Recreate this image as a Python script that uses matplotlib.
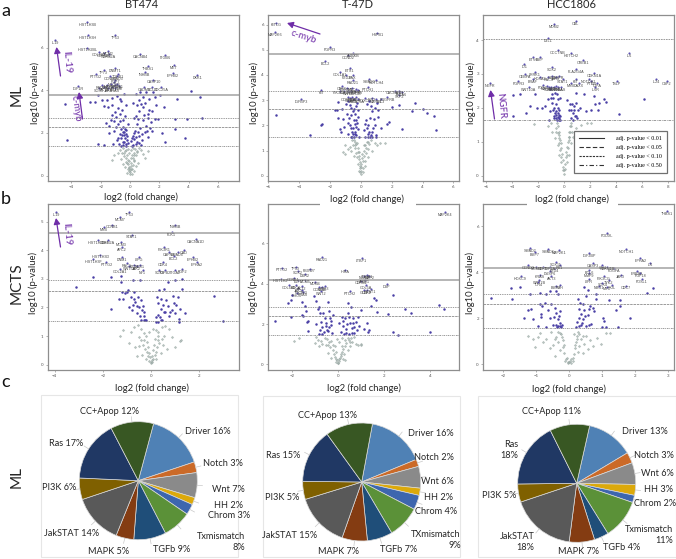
import numpy as np
import matplotlib as mpl
mpl.use('Agg')
import matplotlib.pyplot as plt
from matplotlib.lines import Line2D
from matplotlib.patches import Rectangle

W, H = 676, 559

# gene labels: name, log2 fc, -log10 p
a1_genes = [('HIST1H3B',-2.9,7.2),('HIST1H3H',-2.85,6.6),('TP53',-1.0,6.6),('IL19',-5.1,6.35),('HIST1H2BL',-2.9,6.0),
 ('COL4A2',-2.1,5.8),('COL4A1',-1.8,5.75),('MCM2',-1.5,5.85),('CDKN2A',-1.45,5.7),('CACNB4',0.7,5.7),('ITGB6',2.4,5.65),('MET',3.0,5.2),
 ('THBS1',1.25,5.15),('DKK1',4.6,4.7),('EPHB2',2.95,4.8),('INHBB',1.0,4.85),('CASP10',1.6,4.5),('CADM1',0.95,4.15),('BCL2',1.5,4.15),('CDC25A',2.1,4.15),
 ('PTTG2',-2.3,4.75),('TP73',-1.8,4.95),('DNMT1',-1.0,5.05),('IGF1R',-3.55,4.2),('CCND3',-1.35,4.65),('SMAD3',-0.9,4.65),('TGFB1',-0.8,4.75),
 ('FGF7',-1.0,4.5),('NCOR1',-1.1,4.4),('PIK3R1',-0.9,4.3),('RAD21',-1.9,4.25),('FZD7',-1.6,4.25),('MAP2K2',-1.3,4.3),('WNT5A',-1.0,4.25),('GLI2',-0.75,4.2),
 ('SOS1',-2.1,4.1),('AKT1',-1.75,4.15),('JAK1',-1.5,4.1),('STAT3',-1.25,4.15),('KRAS',-1.05,4.1)]
a1_sig = [(4.15,3.95),(4.8,3.7),(3.2,3.6),(-4.45,3.35),(-4.3,1.67),(-2.7,3.45),(-2.4,3.45),(4.9,2.7),(3.9,2.65),(3.1,2.65),(3.05,2.2),(3.75,1.78),
 (-2.15,1.48),(-1.8,1.43),(-2.2,3.8),(-1.9,3.55),(-1.75,3.25),(-1.5,3.2),(-1.2,3.3),(-0.9,3.75),(-0.6,3.5),(-0.4,3.85),(0.4,3.85),(0.6,3.55),(0.7,3.9),
 (0.9,3.7),(1.1,3.9),(1.3,3.6),(1.55,3.9),(2.05,3.8),(2.3,3.2),(1.8,3.3),(1.5,3.05),(1.2,2.9),(0.9,3.2),(0.6,3.05),(0.4,2.8),(0.2,3.4),
 (-1.2,2.85),(-1.1,2.55),(-0.95,2.75),(-0.8,2.4),(-0.7,2.9),(-0.5,2.6),(-0.35,2.8),(-1.4,2.0),(-1.1,2.1),(-0.9,1.65),(-0.75,1.5),(-0.6,2.2),(-0.55,1.9),
 (-0.5,1.6),(-0.45,2.3),(-0.4,2.05),(-0.35,1.75),(-0.3,1.5),(-0.25,2.15),(-0.2,1.85),(-0.6,1.4),(-0.3,1.38),(0.2,1.45),(0.3,1.7),(0.35,2.1),(0.45,1.6),
 (0.5,2.4),(0.6,1.85),(0.7,2.25),(0.8,1.65),(0.9,2.6),(1.0,2.05),(1.1,2.35),(1.25,1.8),(1.4,2.5),(1.5,2.1),(1.7,2.65),(1.9,2.65),(2.2,2.0),(2.4,1.6),
 (0.15,1.4),(0.25,2.7),(0.55,2.65),(1.25,2.7),(-1.65,2.45),(-1.15,1.5),(-0.85,3.15)]
a1_more = [(-1.05,3.0),(-0.55,3.1),(-0.25,3.3),(-1.3,2.6),(-0.65,2.55),(-0.15,2.4),(-0.5,2.05),(-0.42,1.92),(-0.32,2.2),(-0.28,1.95),(-0.22,1.65),(-0.62,1.75),(-0.7,1.95),(-0.82,1.78),
 (-0.98,2.3),(-0.45,1.45),(-0.38,1.6),(-0.12,1.55),(0.1,1.62),(0.22,1.85),(0.28,1.98),(0.38,1.48),(0.42,1.8),(0.55,2.05),(0.62,1.55),(0.75,1.45),(0.85,1.95),(1.15,2.1),(1.3,3.1),(1.05,3.4),
 (0.75,3.35),(0.5,3.3),(-1.45,2.35),(-1.55,3.55),(-1.25,3.65),(-0.7,3.6),(1.7,3.7),(0.95,2.85),(1.35,2.25),(0.15,1.75)]
a1_ns = [(0,0.1),(0.03,0.25),(-0.04,0.35),(0.06,0.45),(-0.08,0.2),(0.1,0.6),(-0.12,0.55),(0.14,0.3),(-0.16,0.75),(0.2,0.85),(-0.2,0.95),(0.25,1.05),(-0.27,0.65),
 (0.3,0.7),(-0.32,1.15),(0.35,1.25),(-0.38,0.9),(0.42,0.95),(-0.45,1.3),(0.5,1.1),(-0.55,1.05),(0.6,1.3),(-0.7,1.2),(0.75,1.2),(-0.85,1.05),(0.9,1.0),(-1.1,0.95),
 (1.05,0.85),(-0.6,0.8),(0.55,0.6),(-0.35,0.4),(0.3,0.2),(-0.2,0.12),(0.12,0.1),(-1.25,0.75),(1.25,1.15),(-0.05,0.7),(0.04,0.85),(-0.1,1.05),(0.08,1.2),(0.15,0.95),(-0.15,1.25),(-0.5,0.55),(0.4,0.45),
 (-0.02,0.18),(0.07,0.32),(-0.1,0.42),(-0.15,0.3),(0.18,0.5),(-0.22,0.6),(0.24,0.75),(-0.28,0.85),(0.3,0.95),(-0.4,1.05),(0.45,1.15),(-0.25,1.2),(0.2,1.3)]

a2_genes = [('KITLG',-5.45,6.08),('MAP2K6',-5.55,5.7),('HSPB1',1.08,5.68),('FGFR3',-2.0,5.09),('CCND2',-0.82,4.8),('AURKB',-0.5,4.88),('BCL2',-2.3,4.55),
 ('ETS1',-0.7,4.27),('COL1A1',-1.35,4.13),('FZD2',-0.93,4.0),('BAX',-0.5,4.0),('RAD21',-0.5,3.8),('SMAD3',0.52,3.83),('NOTCH4',1.0,3.8),('PTCH1',0.47,3.53),
 ('KIT',-2.55,3.4),('IGFBP3',-3.85,3.03),('CDK6',-1.2,3.55),('TGFBR1',-0.9,3.5),('MYC',-0.55,3.5),('RHOA',-0.3,3.45),('PIK3CA',-1.35,3.38),('E2F1',-1.05,3.38),
 ('WNT3',-0.8,3.35),('NRAS',-0.6,3.38),('GSK3B',-0.35,3.35),('TP63',-0.15,3.4),('CCNE1',-0.85,3.12),('SOS2',-0.7,3.08),('RAF1',-0.55,3.12),('AKT2',-0.45,3.05),
 ('JAK2',-0.3,3.12),('STAT5A',-0.2,3.05),('FOXO3',0.3,3.08),('IRS2',0.7,3.1),('MAPK1',1.0,3.05),('DVL3',1.3,3.05),('PDGFRB',1.7,3.12),('CACNA1D',2.2,3.38),
 ('TCF7',2.5,3.35),('ITGA6',2.65,3.32),('SKP2',2.5,3.22)]
a2_sig = [(-5.45,2.42),(-2.5,2.05),(-2.55,2.0),(-3.3,1.62),(-1.65,2.62),(-1.5,2.92),(-1.55,2.6),(-1.45,2.3),(-1.35,1.85),(-1.2,2.65),(-1.15,2.25),(-1.1,1.95),
 (-0.95,2.85),(-0.9,2.45),(-0.85,2.1),(-0.8,1.65),(-0.7,2.8),(-0.65,2.4),(-0.6,1.9),(-0.55,1.55),(-0.5,2.55),(-0.45,2.2),(-0.4,1.75),(-0.35,2.45),(-0.3,1.95),
 (-0.28,1.6),(-0.25,2.9),(-0.2,2.35),(-0.15,1.85),(-0.12,1.55),(-0.65,1.55),(-0.55,1.75),(0.2,1.8),(0.28,1.55),(0.35,2.2),(0.4,2.85),(0.45,1.65),(0.5,2.0),(0.55,2.95),
 (0.6,1.55),(0.7,1.75),(0.75,2.55),(0.85,2.25),(0.9,2.0),(1.0,1.6),(1.05,2.9),(1.1,2.35),(1.15,2.6),(1.3,1.9),(1.0,1.52),(1.7,2.05),(1.85,2.15),(2.05,2.72),
 (2.5,2.8),(2.7,1.85),(3.3,2.58),(3.5,2.9),(4.0,2.65),(4.3,2.47),(4.75,2.38),(4.85,1.8),(-1.25,1.72),(-0.8,2.95),(0.65,1.6),(0.5,1.55)]
a2_more = [(-0.6,2.7),(-0.42,2.65),(-0.32,2.2),(-0.38,2.05),(-0.48,1.9),(-0.22,2.1),(-0.35,1.65),(-0.42,1.55),(-0.5,1.65),(-0.18,2.6),(-0.3,2.75),(-0.75,2.3),(-0.7,2.0),(0.3,2.05),(0.42,1.9),
 (0.55,1.75),(0.6,2.3),(0.72,1.55),(0.78,1.9),(0.95,2.7),(0.65,2.75)]
a2_ns = [(0,0.08),(0.02,0.2),(-0.03,0.3),(0.05,0.45),(-0.05,0.55),(0.08,0.7),(-0.08,0.65),(0.1,0.85),(-0.12,0.95),(0.15,0.3),(-0.15,0.45),(0.2,1.0),(-0.2,1.1),
 (0.25,0.6),(-0.25,0.75),(0.28,1.2),(-0.28,1.25),(0.3,0.4),(-0.3,0.9),(0.33,0.9),(-0.35,1.35),(0.35,1.1),(-0.4,1.1),(0.4,1.35),(-0.45,0.8),(0.45,1.05),(-0.5,1.2),
 (0.5,0.75),(-0.55,1.4),(0.55,1.25),(-0.6,1.0),(0.65,1.4),(-0.7,1.15),(0.75,1.0),(-0.85,1.05),(0.9,1.3),(-1.0,1.2),(1.05,1.2),(-1.15,0.95),(1.25,1.3),(1.6,1.3),(-1.0,0.85),(0.15,0.15),(-0.1,0.2),
 (-0.02,0.15),(0.04,0.35),(-0.06,0.4),(0.12,0.6),(-0.1,0.8),(-0.18,0.95),(0.18,0.8),(-0.22,1.3),(0.22,1.2),(-0.35,1.2),(-0.42,1.4),(0.5,1.35)]

a3_genes = [('MDM2',-0.75,4.48),('CBL',0.9,4.55),('DLL1',-1.2,4.05),('CCCTNB',-0.5,3.7),('HDTCH2',0.55,3.62),('IL6',5.0,3.62),('ETV6',-2.35,3.5),('BMP',-1.85,3.5),
 ('CREB1',1.45,3.4),('ID1',-3.05,3.3),('SOX2',-0.95,3.2),('PLA2G4A',0.95,3.15),('CEBPA',-3.0,3.0),('LRRK1',-2.25,3.05),('HOXA9',-1.85,2.92),('CDKN1A',2.3,3.02),
 ('FGFR3',-3.5,2.78),('BRAF',-2.4,2.85),('RAC1',-1.2,2.9),('SMO',-0.9,2.95),('JAK3',-0.65,2.92),('EGFR',-0.4,2.95),('STAT1',-0.1,2.85),('KIT',0.9,2.85),('MYB',0.55,2.72),
 ('DAXX',1.15,2.72),('NGFR',-5.7,2.72),('WNT10A',-2.7,2.6),('NOTCH1',1.9,2.85),('PTEN',2.1,2.8),('TGFA',2.55,2.72),('IL6R',2.4,2.6),('TSLP',4.05,2.8),
 ('IL24',7.1,2.85),('CSF2',7.9,2.78),('FGF2',-1.65,2.68),('MAP3K',-1.3,2.65),('SOS1',-1.15,2.6),('PTK2',-1.0,2.62),('CCND1',-0.75,2.6),('CDK4',-0.6,2.65),('RELA',-0.45,2.6),('HRAS',-0.25,2.62)]
a3_sig = [(-3.95,2.38),(-3.4,2.4),(-2.95,1.85),(-3.9,1.75),(-2.2,2.4),(-2.1,2.0),(-2.6,2.05),(-1.7,2.0),(-1.45,2.05),(-1.2,2.25),(-1.1,1.9),(-1.15,1.65),(-1.0,2.3),
 (-0.9,2.15),(-0.85,1.95),(-0.8,1.75),(-0.7,2.45),(-0.65,2.1),(-0.6,1.8),(-0.55,1.65),(-0.5,2.25),(-0.45,2.0),(-0.4,1.8),(-0.38,1.65),(-0.3,1.75),(-0.75,1.7),(-0.5,1.72),
 (0.25,2.22),(0.4,1.95),(0.5,1.7),(0.6,2.1),(0.7,1.85),(0.8,1.95),(0.9,2.15),(0.95,1.75),(1.05,1.95),(1.25,2.0),(1.7,1.9),(2.1,1.95),(2.35,2.1),(2.7,2.15),(3.1,2.25),
 (3.25,2.18),(2.6,1.95),(4.2,1.82),(6.15,2.25),(0.9,2.45),(1.5,2.4),(2.3,2.35),(0.45,2.1),(1.0,1.7),(0.7,1.65),(-1.05,2.55),(-0.3,2.3)]
a3_more = [(-0.95,2.4),(-0.75,2.0),(-0.62,1.92),(-0.55,2.4),(-0.48,1.85),(-0.42,1.7),(-0.35,1.95),(-0.6,1.7),(-0.7,1.85),(-0.82,2.3),(-0.3,1.65),(0.55,1.95),(0.75,2.05),(0.85,1.75)]
a3_ns = [(0,0.05),(0.03,0.15),(-0.05,0.25),(0.08,0.35),(-0.1,0.45),(0.12,0.55),(-0.15,0.65),(0.18,0.7),(-0.2,0.8),(0.25,0.85),(-0.25,0.95),(0.3,1.0),(-0.3,1.05),(0.35,1.15),
 (-0.35,1.2),(0.4,1.3),(-0.4,1.3),(0.45,1.45),(-0.45,1.45),(0.5,1.55),(-0.55,1.55),(-0.1,0.15),(0.1,0.2),(-0.2,0.4),(0.2,0.4),(-0.35,0.6),(0.35,0.6),(-0.5,0.9),(0.5,0.95),
 (-0.7,1.1),(0.7,1.15),(-0.9,1.3),(0.9,1.4),(-1.2,1.45),(1.3,1.5),(-2.3,1.52),(-1.0,1.55),(2.2,1.3),(2.6,1.3),(2.9,1.3),(3.0,1.28),(-0.65,1.4),(0.6,1.3),(1.8,1.55),(2.1,1.55),
 (-0.22,0.55),(0.22,0.6),(-0.28,0.75),(0.28,0.8),(-0.38,0.95),(0.38,1.05),(-0.42,1.1),(0.42,1.15),(-0.48,1.25),(0.48,1.3),(-0.6,1.3),(0.55,1.45)]

b1_genes = [('IL19',-3.95,5.35),('TP53',-0.9,5.35),('MCM7',-1.3,5.15),('CCNB1',-1.6,4.9),('MYB',-1.95,4.8),('INHBB',1.0,4.9),('PLK1',0.85,4.65),('STAT1',-0.8,4.55),
 ('HIST1H2BH',-2.2,4.35),('CDKN2A',-1.8,4.35),('MCM3',-1.25,4.3),('APC2',-1.2,4.1),('CACNA1D',1.85,4.4),('PIK3R1',0.55,4.1),('CAPN2',0.75,3.95),('SMAD4',1.1,3.95),
 ('CAD',1.35,4.0),('BCL2',0.95,3.8),('HIST1H3D',-2.1,3.85),('HIST1H3F',-2.4,3.7),('PTTG2',-1.85,3.6),('DNM1',-1.2,3.75),('LIPG',-0.5,3.75),('EPHA2',1.9,3.6),
 ('EPHB2',1.75,3.75),('CDK4',0.5,3.6),('RAC1',-1.0,3.55),('WNT5A',-0.9,3.45),('FZD1',-0.7,3.5),('JAK2',-0.6,3.45),('SOS1',-0.45,3.5),('COL2A1',-1.3,3.35),('NF1',-0.35,3.3),
 ('SOX9',0.35,3.3),('TGFB2',0.6,3.3),('ITGA2',1.0,3.3),('FGF2',1.3,3.35)]
b1_sig = [(-3.1,2.72),(-2.4,3.05),(-1.65,3.08),(-1.25,3.1),(-1.25,2.9),(-1.2,2.55),(-1.15,2.3),(-1.0,2.55),(-0.9,2.0),(-0.85,2.35),(-0.8,1.9),(-0.7,2.55),(-0.65,2.2),
 (-0.6,1.8),(-0.55,2.35),(-0.5,2.0),(-0.45,1.7),(-0.4,2.25),(-0.35,2.05),(-0.3,1.85),(-0.25,1.55),(-0.2,1.55),(-1.65,1.95),(-1.35,2.3),(-1.1,2.5),(-0.75,2.95),(-0.45,2.95),
 (0.2,1.5),(0.25,2.35),(0.3,1.75),(0.35,2.6),(0.4,1.95),(0.42,2.3),(0.45,1.55),(0.5,2.1),(0.55,2.65),(0.6,1.85),(0.7,2.05),(0.75,1.7),(0.85,1.9),(0.9,2.4),(0.95,2.15),(1.0,1.8),
 (1.05,2.1),(1.1,2.35),(1.15,1.6),(1.2,1.95),(1.3,2.65),(1.4,1.8),(1.3,3.0),(1.0,2.95),(0.7,2.9),(2.6,2.4),(3.0,1.52),(1.15,1.5),(0.3,1.5),(-0.3,1.55)]
b1_more = [(-0.75,2.1),(-0.58,2.05),(-0.42,1.55),(-0.38,1.9),(-0.28,1.7),(0.22,1.65),(0.28,2.15),(0.38,1.65),(0.4,1.55),(0.52,1.85),(0.62,2.25),(0.78,1.85),(-0.95,2.6),(-0.7,2.3)]
b1_ns = [(0,0.05),(0.02,0.15),(-0.04,0.25),(0.06,0.3),(-0.08,0.4),(0.1,0.5),(-0.12,0.6),(0.14,0.7),(-0.15,0.8),(0.18,0.9),(-0.2,1.0),(0.2,0.2),(-0.2,0.2),(0.24,0.6),(-0.24,0.55),
 (0.27,1.0),(-0.3,1.1),(0.3,1.15),(-0.33,0.7),(0.35,0.75),(-0.38,0.35),(0.4,0.4),(-0.42,1.25),(0.44,1.3),(-0.5,0.95),(0.52,1.0),(-0.55,1.4),(0.58,1.35),(-0.65,0.6),(0.65,0.55),
 (-0.72,1.3),(0.75,1.25),(-0.85,1.15),(0.85,0.95),(-1.15,1.2),(-1.3,1.0),(1.25,0.85),(1.2,0.82),(-0.6,0.3),(0.2,1.2),(-0.1,1.15),(0.08,1.25),(-0.9,0.75),(1.0,0.6),
 (-0.02,0.1),(0.05,0.1),(-0.07,0.12),(0.1,0.18),(-0.12,0.3),(0.15,0.35),(-0.18,0.45),(0.22,0.45),(-0.28,0.85),(0.3,0.85),(-0.4,0.85),(0.45,0.9),(-0.48,0.65),(0.5,0.7)]

b2_genes = [('MAP2K4',4.64,7.55),('RAD21',-0.7,5.3),('LTBP1',1.02,5.25),('PTTG2',-2.45,4.8),('TP53',-1.85,4.85),('SOX2',-1.75,4.65),('FBXW7',-1.25,4.75),('DDR2',-1.45,4.5),
 ('HIRA',0.3,4.7),('NRAS',1.1,4.4),('TGFB1',1.25,4.45),('MAP2',1.35,4.4),('HIST1H2',-2.5,4.25),('CCNE1',-1.95,4.3),('E2F1',-1.75,4.2),('MCM5',-1.45,4.2),('MDM4',-1.0,4.1),
 ('COL4A5',-2.15,3.95),('CDC6',-1.85,3.95),('AKT2',-1.6,3.9),('JAK1',-1.75,3.8),('PIK3R3',-1.6,3.7),('CCND1',-0.85,3.85),('FZD8',-0.7,3.85),('TCF3',-0.6,3.9),('WNT2',-0.75,3.65),
 ('CDKN1',1.0,4.15),('ARID1',1.15,4.2),('COL5A',1.2,3.95),('DSP',2.1,4.0),('GLI1',1.1,3.7),('CDK2',1.25,3.68),('PTCH2',0.5,3.65),('STAT1',1.4,3.75),('SHC1',-1.8,3.55),('KRAS',-1.55,3.6)]
b2_sig = [(-2.75,2.15),(-2.2,3.05),(-2.05,3.2),(-2.0,3.45),(-2.05,2.35),(-1.6,3.1),(-1.6,2.45),(-1.55,2.4),(-1.45,2.9),(-1.35,2.1),(-1.3,2.15),(-1.3,1.65),(-1.05,3.4),(-0.95,3.15),
 (-0.9,2.75),(-0.85,2.85),(-0.8,2.55),(-0.75,2.1),(-0.7,1.85),(-0.65,2.55),(-0.6,2.3),(-0.55,2.05),(-0.5,1.7),(-0.45,3.1),(-0.4,2.65),(-0.35,2.3),(-0.3,1.95),(-0.28,1.55),(-0.25,2.45),
 (-0.7,1.5),(-0.85,1.5),(-0.45,1.65),(0.05,2.05),(0.1,1.6),(0.15,2.35),(0.2,1.9),(0.25,1.5),(0.3,2.3),(0.35,1.75),(0.4,2.55),(0.42,3.05),(0.45,1.5),(0.5,2.05),(0.55,2.85),(0.6,1.8),
 (0.65,2.3),(0.7,1.55),(0.75,2.1),(0.85,2.35),(0.9,1.9),(1.0,2.7),(1.1,1.75),(1.25,2.05),(1.3,1.6),(1.35,1.7),(1.4,2.9),(1.55,3.3),(1.65,3.2),(1.7,2.6),(2.15,2.5),(2.4,3.45),(2.4,1.6),
 (2.6,1.45),(2.9,2.75),(3.15,2.55),(4.0,1.62),(4.4,2.95),(4.6,2.75)]
b2_more = [(-0.78,1.7),(-0.62,1.6),(-0.55,1.9),(-0.42,1.85),(-0.32,2.15),(0.22,2.15),(0.32,1.55),(0.38,2.0),(0.48,2.35),(0.58,1.55),(0.62,2.05),(0.7,1.85),(0.8,1.7),(-1.4,2.65),(-0.95,2.0)]
b2_ns = [(0,0.05),(0.03,0.15),(-0.05,0.2),(0.08,0.3),(-0.1,0.12),(0.12,0.4),(-0.15,0.35),(0.15,0.6),(-0.2,0.5),(0.2,0.75),(-0.25,0.7),(0.25,0.5),(-0.3,0.3),(0.3,0.9),(-0.35,0.85),(0.35,1.05),
 (-0.4,1.1),(0.4,0.7),(-0.45,0.55),(0.45,1.2),(-0.5,1.25),(0.5,0.9),(-0.55,0.95),(0.55,1.3),(-0.6,1.3),(0.6,1.1),(-0.7,1.0),(0.7,1.35),(-0.75,1.15),(0.75,1.0),(-0.9,1.2),(0.85,0.95),(-0.85,0.9),
 (-1.0,1.05),(-0.95,1.35),(0.2,0.25),(-0.15,0.9),(0.05,1.1),(-0.05,1.25),(1.0,0.95),(0.98,1.02),(-1.95,1.18),(-1.7,1.3),(0.15,1.3),(0.3,0.2),
 (-0.02,0.08),(0.02,0.25),(-0.08,0.28),(0.1,0.5),(-0.12,0.6),(0.18,0.9),(-0.22,0.95),(0.28,1.2),(-0.3,1.15),(0.4,1.3),(-0.45,0.95),(0.5,1.1)]

b3_genes = [('THBS1',2.97,6.68),('PODXL',1.13,5.7),('NOTCH1',1.72,5.0),('SMAD2',-1.2,5.05),('BMP7',-1.05,4.88),('SMAD4',-0.65,5.0),('MAP2K1',-0.32,4.95),('IGF2BP',0.6,4.85),
 ('EPHA2',2.15,4.62),('SOX11',-0.4,4.45),('CASP3',0.72,4.4),('IL6',2.45,4.42),('CCND2',-1.25,4.3),('MCM4',-1.0,4.25),('CDK1',-0.8,4.25),('TOP2A',-0.6,4.25),('FZD4',-0.45,4.2),('RB1',-0.3,4.3),
 ('GLI1',1.0,4.3),('CDKN1B',1.15,4.25),('PDGFA',1.35,4.2),('BCL6',0.6,4.1),('DUSP6',-0.6,4.05),('HOXC9',-1.48,3.85),('KRAS',-0.9,3.9),('AKT3',-0.55,3.85),('WNT7B',-0.92,3.65),('TLR4',-0.95,3.58),
 ('MMP9',0.6,3.95),('LIFR',0.6,3.7),('PIK3CG',1.05,3.85),('JAK3',1.55,3.9),('ERBB2',2.05,4.05),('FGF18',2.15,3.98),('FOSL1',2.2,3.7),('TYK2',1.2,3.65),('SOX4',1.0,3.55),('NRG1',0.9,3.42),('SKIL',1.3,3.45),('MYC',1.15,3.38),
 ('CDC7',1.7,3.42),('BMP2',-0.42,3.42),('SHH',-0.3,3.45)]
b3_sig = [(-2.38,2.9),(-1.78,3.32),(-1.75,2.85),(-1.5,3.35),(-1.2,3.05),(-1.25,2.38),(-1.15,2.4),(-1.38,2.0),(-1.1,1.95),(-0.9,3.1),(-0.85,2.05),(-0.7,3.05),(-0.75,2.65),(-0.88,2.6),
 (-0.85,2.2),(-0.65,2.35),(-0.7,1.6),(-0.6,2.0),(-0.6,3.2),(-0.55,2.6),(-0.5,1.7),(-0.45,2.45),(-0.4,2.25),(-0.4,3.2),(-0.35,3.05),(-0.35,1.95),(-0.35,1.65),(-0.3,2.3),(-0.3,1.8),(-0.25,1.6),(-0.22,1.7),
 (0.2,1.6),(0.22,1.85),(0.25,2.85),(0.3,2.4),(0.3,2.0),(0.35,1.7),(0.35,2.2),(0.4,2.6),(0.42,1.95),(0.45,3.35),(0.45,2.35),(0.5,2.95),(0.5,1.65),(0.55,2.15),(0.55,3.25),(0.62,2.55),(0.65,1.75),(0.7,2.45),
 (0.75,2.3),(0.8,3.05),(0.8,2.85),(1.02,2.0),(1.0,1.6),(1.05,1.9),(1.12,1.62),(1.2,2.8),(1.42,2.35),(1.47,1.62),(1.53,2.78),(1.53,2.55),(1.85,2.03),(2.35,3.1),(2.53,3.3)]
b3_more = [(-0.42,1.7),(-0.38,1.6),(-0.32,2.1),(-0.28,1.65),(-0.48,2.05),(0.28,1.65),(0.32,2.65),(0.38,1.8),(0.48,2.1),(0.58,1.7),(0.6,2.4),(-0.82,2.55),(-0.95,1.65)]
b3_ns = [(0,0.08),(0.02,0.15),(-0.03,0.1),(0.06,0.25),(-0.07,0.28),(0.1,0.12),(-0.12,0.15),(0.14,0.45),(-0.15,0.5),(0.18,0.7),(-0.18,0.75),(0.2,0.95),(-0.2,1.05),(0.22,1.25),(-0.25,1.3),(0.25,0.55),
 (-0.3,0.6),(0.3,0.8),(-0.35,0.95),(0.35,1.1),(-0.4,1.2),(0.4,0.5),(-0.45,0.35),(0.45,0.9),(-0.5,0.85),(0.5,1.25),(-0.55,1.4),(0.55,0.65),(-0.6,0.7),(0.62,1.05),(-0.7,1.1),(0.7,0.8),(-0.8,0.95),(0.85,1.15),
 (-0.9,1.35),(0.95,0.9),(-1.05,0.75),(-1.25,1.25),(1.1,1.35),(1.22,1.35),(-0.95,1.2),(0.25,1.4),(-0.35,1.42),(0.15,1.3),(-1.1,1.1),
 (-0.05,0.05),(0.04,0.05),(-0.1,0.22),(0.12,0.28),(-0.16,0.85),(0.17,0.85),(-0.22,1.2),(0.24,1.1),(-0.28,1.35),(0.28,1.3),(-0.45,1.1),(0.42,1.25)]

# cutoff lines adj p 0.01 / 0.05 / 0.10 / 0.50
a1_cut = [3.8, 2.68, 2.28, 1.38]
a2_cut = [4.83, 3.38, 2.64, 1.52]
a3_cut = [4.04, 1.63]
b1_cut = [4.59, 2.96, 2.56, 1.52]
b2_cut = [4.2, 2.86, 2.38, 1.44]
b3_cut = [4.19, 3.06, 2.61, 1.57]

pie_names = ['Driver','Notch','Wnt','HH','Chrom','Txmismatch','TGFb','MAPK','JakSTAT','PI3K','Ras','CC+Apop']
pie_colors = ['#4f81b5','#cb6a28','#8a8a8a','#dca90b','#3d66ae','#5b9138','#1f4e79','#843c12','#595959','#7f6000','#203864','#385723']
c1_vals = [16,3,7,2,3,8,9,5,14,6,17,12]
c2_vals = [16,2,6,2,4,9,7,7,15,5,15,13]
c3_vals = [13,3,6,3,2,11,4,7,18,5,18,11]
c1_labels = ['Driver 16%','Notch 3%','Wnt 7%','HH 2%','Chrom 3%','Txmismatch\n8%','TGFb 9%','MAPK 5%','JakSTAT 14%','PI3K 6%','Ras 17%','CC+Apop 12%']
c2_labels = ['Driver 16%','Notch 2%','Wnt 6%','HH 2%','Chrom 4%','TXmismatch\n9%','TGFb 7%','MAPK 7%','JakSTAT 15%','PI3K 5%','Ras 15%','CC+Apop 13%']
c3_labels = ['Driver 13%','Notch 3%','Wnt 6%','HH 3%','Chrom 2%','Txmismatch\n11%','TGFb 4%','MAPK 7%','JakSTAT\n18%','PI3K 5%','Ras\n18%','CC+Apop 11%']

plt.rcParams['font.family'] = ['Lato', 'DejaVu Sans']
fig = plt.figure(figsize=(W/100, H/100), dpi=100)
fig.patch.set_facecolor('white')

def box(x0, y0, x1, y1):
    return [x0/W, 1-y1/H, (x1-x0)/W, (y1-y0)/H]

def txt(x, y, s, **kw):
    kw.setdefault('ha', 'center')
    kw.setdefault('va', 'center')
    kw.setdefault('color', '#262626')
    return fig.text(x/W, 1-y/H, s, **kw)

def volcano(rect, xlim, ylim, xt, yt, genes, sig, ns, cuts):
    ax = fig.add_axes(box(*rect))
    ax.set_xlim(xlim)
    ax.set_ylim(ylim)
    n = np.array(ns)
    s = np.array(sig)
    ax.scatter(n[:,0], n[:,1], s=2.8, c='#9aa9a5', alpha=0.7, marker='D', linewidths=0)
    ax.scatter(s[:,0], s[:,1], s=3.2, c='#4a3fa5', linewidths=0)
    for name, gx, gy in genes:
        ax.scatter([gx], [gy], s=2.4, c='#5a50b0', linewidths=0)
        ax.annotate(name, (gx, gy), xytext=(0, -0.6), textcoords='offset points', ha='center', va='top',
                    fontsize=2.7, color='#4a4a4a', family='Liberation Sans', annotation_clip=False)
    if len(cuts) == 2:
        styles = [(0, (2, 1)), (0, (3, 1, 1, 1))]
    else:
        styles = ['-', (0, (1.6, 1.2)), (0, (3, 1)), (0, (2, 1, 1, 1))]
    for i, c in enumerate(cuts):
        if styles[i] == '-':
            ax.axhline(c, color='#a2a2a2', lw=1.1)
        else:
            ax.axhline(c, color='#8c8c8c', lw=0.6, ls=styles[i])
    ax.set_xticks(xt)
    ax.set_yticks(yt)
    ax.tick_params(labelsize=3.2, length=1.5, width=0.4, color='#777777', labelcolor='#555555', pad=1.5)
    for sp in ax.spines.values():
        sp.set_color('#8e8e8e')
        sp.set_linewidth(0.9)
    return ax

rows = [(15, 181), (204, 370)]
cols = [(47.7, 238.7), (268, 459), (483, 674)]

volcano((cols[0][0], rows[0][0], cols[0][1], rows[0][1]), (-5.61, 7.41), (-0.25, 7.53), [-4,-2,0,2,4,6], [0,2,4,6], a1_genes, a1_sig+a1_more, a1_ns, a1_cut)
volcano((cols[1][0], rows[0][0], cols[1][1], rows[0][1]), (-6.0, 6.36), (-0.21, 6.38), [-6,-4,-2,0,2,4,6], [0,1,2,3,4,5,6], a2_genes, a2_sig+a2_more, a2_ns, a2_cut)
ax3 = volcano((cols[2][0], rows[0][0], cols[2][1], rows[0][1]), (-6.23, 8.46), (-0.16, 4.74), [-6,-4,-2,0,2,4,6,8], [0,1,2,3,4], a3_genes, a3_sig+a3_more, a3_ns, a3_cut)
volcano((cols[0][0], rows[1][0], cols[0][1], rows[1][1]), (-4.29, 3.64), (-0.19, 5.62), [-4,-2,0,2], [0,1,2,3,4,5], b1_genes, b1_sig+b1_more, b1_ns, b1_cut)
volcano((cols[1][0], rows[1][0], cols[1][1], rows[1][1]), (-3.06, 5.25), (-0.28, 7.95), [-2,0,2,4], [0,2,4,6], b2_genes, b2_sig+b2_more, b2_ns, b2_cut)
volcano((cols[2][0], rows[1][0], cols[2][1], rows[1][1]), (-2.62, 3.17), (-0.25, 6.97), [-2,-1,0,1,2,3], [0,2,4,6], b3_genes, b3_sig+b3_more, b3_ns, b3_cut)

handles = [Line2D([], [], color='#333333', lw=0.8, ls='-'),
           Line2D([], [], color='#333333', lw=0.8, ls=(0, (4, 2))),
           Line2D([], [], color='#333333', lw=0.8, ls=(0, (2, 1))),
           Line2D([], [], color='#333333', lw=0.8, ls=(0, (4, 2, 1, 2)))]
leg = ax3.legend(handles, ['adj. p-value < 0.01', 'adj. p-value < 0.05', 'adj. p-value < 0.10', 'adj. p-value < 0.50'],
                 loc='lower right', bbox_to_anchor=(0.977, 0.033), frameon=True, fancybox=False, framealpha=1,
                 edgecolor='#707070', handlelength=4.2, labelspacing=0.62, borderpad=0.8, handletextpad=2,
                 prop={'family': 'Liberation Serif', 'size': 4.3})
leg.get_frame().set_linewidth(0.9)

# white patches where row a x labels cut the panel b frames
for x0, x1 in [(320, 416), (527, 618)]:
    fig.add_artist(Rectangle((x0/W, 1-206/H), (x1-x0)/W, 4/H, transform=fig.transFigure, fc='white', ec='none', zorder=5))

for x, s in [(142, 'BT474'), (358, 'T-47D'), (572, 'HCC1806')]:
    txt(x, 5, s, fontsize=8)
for x, y in [(141, 197), (367, 199), (572, 199), (152, 388), (364, 388), (569, 389)]:
    txt(x, y, 'log2 (fold change)', fontsize=6.8, zorder=6)
for x, y in [(35, 93), (254, 93), (471, 93), (33, 283), (253, 283), (470, 283)]:
    txt(x, y, 'log10 (p-value)', fontsize=6.8, rotation=90)
for y, s in [(95, 'ML'), (283, 'MCTS'), (477, 'ML')]:
    txt(17, y, s, fontsize=11, rotation=90)
for y, s in [(11, 'a'), (199, 'b'), (382, 'c')]:
    txt(6, y, s, fontsize=13, color='#111111')

# purple arrows and their labels
purple = '#6f2da8'
arrows = [(60.5, 76, 56.5, 47), (82.5, 119, 79, 92), (320, 34, 287, 23), (494.5, 119, 490.5, 90), (60.5, 247, 56, 218)]
for x0, y0, x1, y1 in arrows:
    fig.add_artist(mpl.patches.FancyArrowPatch((x0/W, 1-y0/H), (x1/W, 1-y1/H), transform=fig.transFigure,
                   arrowstyle='-|>,head_length=3.6,head_width=1.9', color=purple, lw=0.9, shrinkA=0, shrinkB=0))
txt(66.5, 62, 'IL-19', fontsize=7, rotation=-85, color=purple)
txt(76, 108, 'c-myb', fontsize=7, rotation=-82, color=purple)
txt(304, 37, 'c-myb', fontsize=7, rotation=-18, color=purple)
txt(500.5, 106, 'NGFR', fontsize=7, rotation=-85, color=purple)
txt(66.5, 234, 'IL-19', fontsize=7, rotation=-85, color=purple)

def pie_panel(frame, cx, cy, start, vals, labels, spots):
    fig.add_artist(Rectangle((frame[0]/W, 1-frame[3]/H), (frame[2]-frame[0])/W, (frame[3]-frame[1])/H,
                             transform=fig.transFigure, fc='white', ec='#e6e6e6', lw=0.8, zorder=-1))
    r = 59
    ax = fig.add_axes(box(cx-r, cy-r, cx+r, cy+r))
    wedges, _ = ax.pie(vals, colors=pie_colors, startangle=start, counterclock=False, radius=1,
                       wedgeprops={'edgecolor': '#d9d9d9', 'linewidth': 0.5})
    ax.set_xlim(-1, 1)
    ax.set_ylim(-1, 1)
    ax.set_aspect('equal')
    for w in wedges:
        a = np.deg2rad((w.theta1 + w.theta2) / 2)
        ax.plot([np.cos(a), 1.09*np.cos(a)], [np.sin(a), 1.09*np.sin(a)], color='#c8c8c8', lw=0.5, clip_on=False)
    for lab, (x, y) in zip(labels, spots):
        txt(x, y, lab, fontsize=6.6, linespacing=1.35, multialignment='right' if '\n' in lab else 'center')

c1_spots = [(207.5,432),(223,464),(228,490),(229,505),(229,515),(221,542),(172,549),(109,551),(72,533),(59.5,488),(66,444),(109,411)]
c2_spots = [(431,434),(434,458),(437,481),(439,497),(436,511),(436,540),(399,549),(339,552),(290,536),(282,498),(283,455),(328,416)]
c3_spots = [(645,432),(654,455),(657,474),(658,489),(655,503),(649,535),(622,548),(578,551),(517,542),(499,496),(509,450),(551,412)]
pie_panel((41, 395, 238, 557), 138.3, 480.7, 75, c1_vals, c1_labels, c1_spots)
pie_panel((263, 396, 460, 557), 361.7, 482, 79.5, c2_vals, c2_labels, c2_spots)
pie_panel((478, 396, 675.5, 557), 576.7, 483.3, 77.3, c3_vals, c3_labels, c3_spots)

fig.savefig('out.png', dpi=100)
